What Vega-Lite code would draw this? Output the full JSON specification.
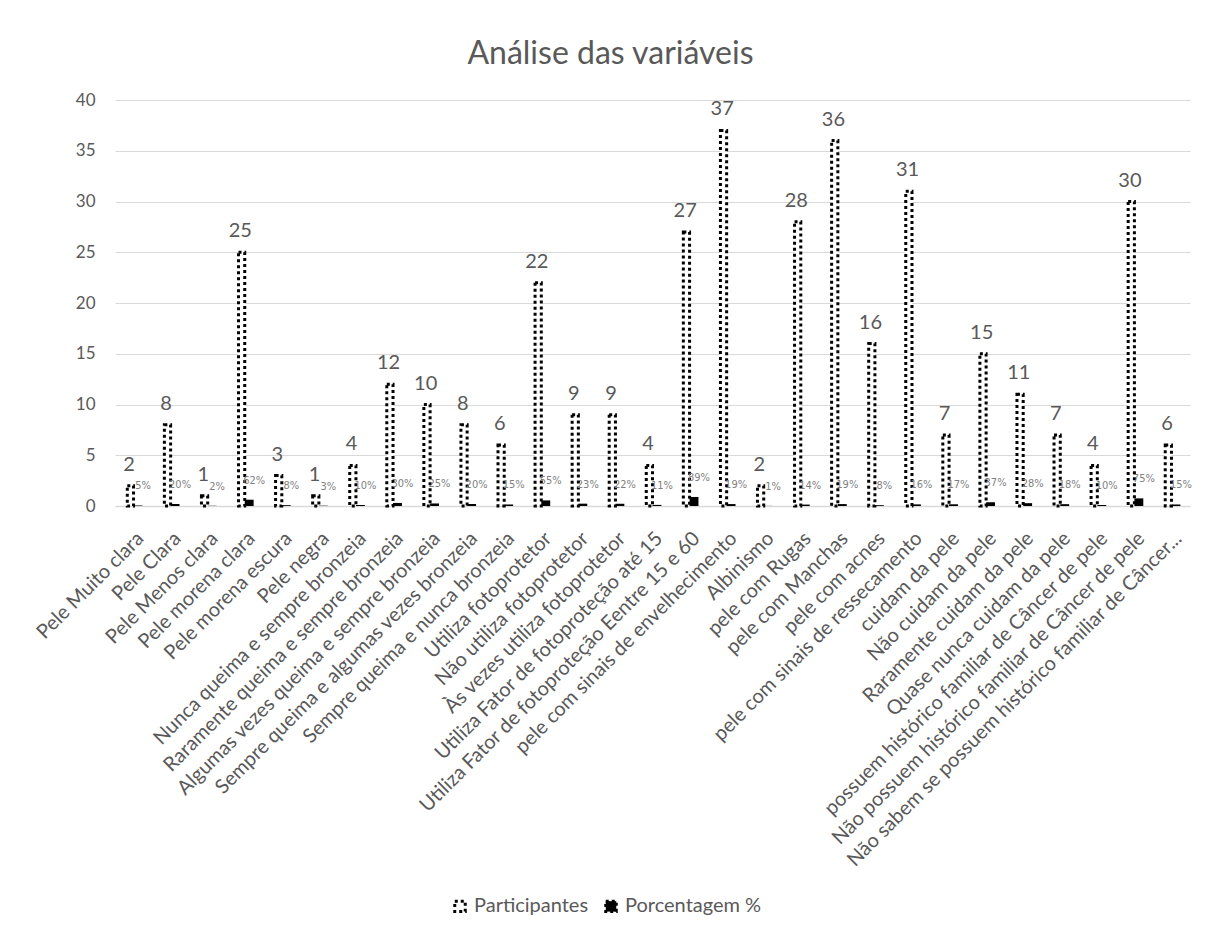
{
  "$schema": "https://vega.github.io/schema/vega-lite/v6.json",
  "autosize": {"type": "none"},
  "width": 1075,
  "height": 406,
  "padding": {"left": 115, "top": 100, "right": 18, "bottom": 421},
  "background": "white",
  "config": {
    "view": {"stroke": null},
    "font": "Lato"
  },
  "title": {
    "text": "Análise das variáveis",
    "fontSize": 32,
    "fontWeight": "normal",
    "color": "#595959",
    "font": "Lato",
    "anchor": "middle",
    "dx": -42,
    "offset": 20
  },
  "data": {
    "values": [
      {"categoria": "Pele Muito clara", "serie": "Participantes", "valor": 2},
      {"categoria": "Pele Muito clara", "serie": "Porcentagem %", "valor": 0.05},
      {"categoria": "Pele Clara", "serie": "Participantes", "valor": 8},
      {"categoria": "Pele Clara", "serie": "Porcentagem %", "valor": 0.20},
      {"categoria": "Pele Menos clara", "serie": "Participantes", "valor": 1},
      {"categoria": "Pele Menos clara", "serie": "Porcentagem %", "valor": 0.02},
      {"categoria": "Pele morena clara", "serie": "Participantes", "valor": 25},
      {"categoria": "Pele morena clara", "serie": "Porcentagem %", "valor": 0.62},
      {"categoria": "Pele morena escura", "serie": "Participantes", "valor": 3},
      {"categoria": "Pele morena escura", "serie": "Porcentagem %", "valor": 0.08},
      {"categoria": "Pele negra", "serie": "Participantes", "valor": 1},
      {"categoria": "Pele negra", "serie": "Porcentagem %", "valor": 0.03},
      {"categoria": "Nunca queima e sempre bronzeia", "serie": "Participantes", "valor": 4},
      {"categoria": "Nunca queima e sempre bronzeia", "serie": "Porcentagem %", "valor": 0.10},
      {"categoria": "Raramente queima e sempre bronzeia", "serie": "Participantes", "valor": 12},
      {"categoria": "Raramente queima e sempre bronzeia", "serie": "Porcentagem %", "valor": 0.30},
      {"categoria": "Algumas vezes queima e sempre bronzeia", "serie": "Participantes", "valor": 10},
      {"categoria": "Algumas vezes queima e sempre bronzeia", "serie": "Porcentagem %", "valor": 0.25},
      {"categoria": "Sempre queima e algumas vezes bronzeia", "serie": "Participantes", "valor": 8},
      {"categoria": "Sempre queima e algumas vezes bronzeia", "serie": "Porcentagem %", "valor": 0.20},
      {"categoria": "Sempre queima e nunca bronzeia", "serie": "Participantes", "valor": 6},
      {"categoria": "Sempre queima e nunca bronzeia", "serie": "Porcentagem %", "valor": 0.15},
      {"categoria": "Utiliza fotoprotetor", "serie": "Participantes", "valor": 22},
      {"categoria": "Utiliza fotoprotetor", "serie": "Porcentagem %", "valor": 0.55},
      {"categoria": "Não utiliza fotoprotetor", "serie": "Participantes", "valor": 9},
      {"categoria": "Não utiliza fotoprotetor", "serie": "Porcentagem %", "valor": 0.23},
      {"categoria": "Às vezes utiliza fotoprotetor", "serie": "Participantes", "valor": 9},
      {"categoria": "Às vezes utiliza fotoprotetor", "serie": "Porcentagem %", "valor": 0.22},
      {"categoria": "Utiliza Fator de fotoproteção  até 15", "serie": "Participantes", "valor": 4},
      {"categoria": "Utiliza Fator de fotoproteção  até 15", "serie": "Porcentagem %", "valor": 0.11},
      {"categoria": "Utiliza Fator de fotoproteção Eentre 15 e 60", "serie": "Participantes", "valor": 27},
      {"categoria": "Utiliza Fator de fotoproteção Eentre 15 e 60", "serie": "Porcentagem %", "valor": 0.89},
      {"categoria": "pele com sinais de envelhecimento", "serie": "Participantes", "valor": 37},
      {"categoria": "pele com sinais de envelhecimento", "serie": "Porcentagem %", "valor": 0.19},
      {"categoria": "Albinismo", "serie": "Participantes", "valor": 2},
      {"categoria": "Albinismo", "serie": "Porcentagem %", "valor": 0.01},
      {"categoria": "pele com Rugas", "serie": "Participantes", "valor": 28},
      {"categoria": "pele com Rugas", "serie": "Porcentagem %", "valor": 0.14},
      {"categoria": "pele com Manchas", "serie": "Participantes", "valor": 36},
      {"categoria": "pele com Manchas", "serie": "Porcentagem %", "valor": 0.19},
      {"categoria": "pele com acnes", "serie": "Participantes", "valor": 16},
      {"categoria": "pele com acnes", "serie": "Porcentagem %", "valor": 0.08},
      {"categoria": "pele com sinais de ressecamento", "serie": "Participantes", "valor": 31},
      {"categoria": "pele com sinais de ressecamento", "serie": "Porcentagem %", "valor": 0.16},
      {"categoria": "cuidam da  pele", "serie": "Participantes", "valor": 7},
      {"categoria": "cuidam da  pele", "serie": "Porcentagem %", "valor": 0.17},
      {"categoria": "Não cuidam da pele", "serie": "Participantes", "valor": 15},
      {"categoria": "Não cuidam da pele", "serie": "Porcentagem %", "valor": 0.37},
      {"categoria": "Raramente cuidam da pele", "serie": "Participantes", "valor": 11},
      {"categoria": "Raramente cuidam da pele", "serie": "Porcentagem %", "valor": 0.28},
      {"categoria": "Quase nunca cuidam da pele", "serie": "Participantes", "valor": 7},
      {"categoria": "Quase nunca cuidam da pele", "serie": "Porcentagem %", "valor": 0.18},
      {"categoria": "possuem histórico familiar de Câncer de pele", "serie": "Participantes", "valor": 4},
      {"categoria": "possuem histórico familiar de Câncer de pele", "serie": "Porcentagem %", "valor": 0.10},
      {"categoria": "Não possuem histórico familiar de Câncer de pele", "serie": "Participantes", "valor": 30},
      {"categoria": "Não possuem histórico familiar de Câncer de pele", "serie": "Porcentagem %", "valor": 0.75},
      {"categoria": "Não sabem se possuem histórico familiar de Câncer...", "serie": "Participantes", "valor": 6},
      {"categoria": "Não sabem se possuem histórico familiar de Câncer...", "serie": "Porcentagem %", "valor": 0.15}
    ]
  },
  "encoding": {
    "x": {
      "field": "categoria",
      "type": "nominal",
      "sort": null,
      "title": null,
      "scale": {"paddingInner": 0.52, "paddingOuter": 0.26},
      "axis": {
        "labelAngle": -45,
        "labelFontSize": 20,
        "labelColor": "#595959",
        "labelFont": "Lato",
        "labelLimit": 600,
        "labelPadding": 22,
        "ticks": false,
        "domainColor": "#d9d9d9",
        "domainWidth": 1.5,
        "grid": false
      }
    },
    "xOffset": {"field": "serie", "type": "nominal", "sort": ["Participantes", "Porcentagem %"]},
    "y": {
      "field": "valor",
      "type": "quantitative",
      "title": null,
      "scale": {"domain": [0, 40], "nice": false},
      "axis": {
        "values": [0, 5, 10, 15, 20, 25, 30, 35, 40],
        "labelFontSize": 17,
        "labelColor": "#595959",
        "labelFont": "Lato",
        "labelPadding": 20,
        "ticks": false,
        "domain": false,
        "gridColor": "#d9d9d9",
        "gridWidth": 1
      }
    }
  },
  "layer": [
    {
      "transform": [{"filter": "datum.serie == 'Participantes'"}],
      "mark": {"type": "bar", "stroke": "black", "strokeWidth": 3, "strokeDash": [3, 3], "width": {"band": 0.7}},
      "encoding": {
        "fill": {
          "field": "serie",
          "type": "nominal",
          "scale": {"domain": ["Participantes", "Porcentagem %"], "range": ["white", "black"]},
          "legend": {
            "title": null,
            "orient": "none",
            "direction": "horizontal",
            "legendX": 335,
            "legendY": 796,
            "symbolType": "square",
            "symbolSize": 110,
            "symbolStrokeColor": "black",
            "symbolDash": [3, 3],
            "symbolStrokeWidth": 3,
            "labelFontSize": 20,
            "labelColor": "#595959",
            "labelFont": "Lato",
            "columnPadding": 10
          }
        }
      }
    },
    {
      "transform": [{"filter": "datum.serie == 'Porcentagem %'"}],
      "mark": {"type": "bar"},
      "encoding": {
        "fill": {"field": "serie", "type": "nominal"}
      }
    },
    {
      "transform": [{"filter": "datum.serie == 'Participantes'"}],
      "mark": {"type": "text", "baseline": "middle", "dy": -21, "fontSize": 20, "color": "#595959", "font": "Lato"},
      "encoding": {"text": {"field": "valor", "type": "quantitative", "format": "d"}}
    },
    {
      "transform": [{"filter": "datum.serie == 'Porcentagem %'"}],
      "mark": {"type": "text", "baseline": "middle", "dy": -19, "dx": 5, "fontSize": 11, "color": "#7f7f7f", "font": "DejaVu Sans Condensed"},
      "encoding": {"text": {"field": "valor", "type": "quantitative", "format": ".0%"}}
    }
  ]
}
